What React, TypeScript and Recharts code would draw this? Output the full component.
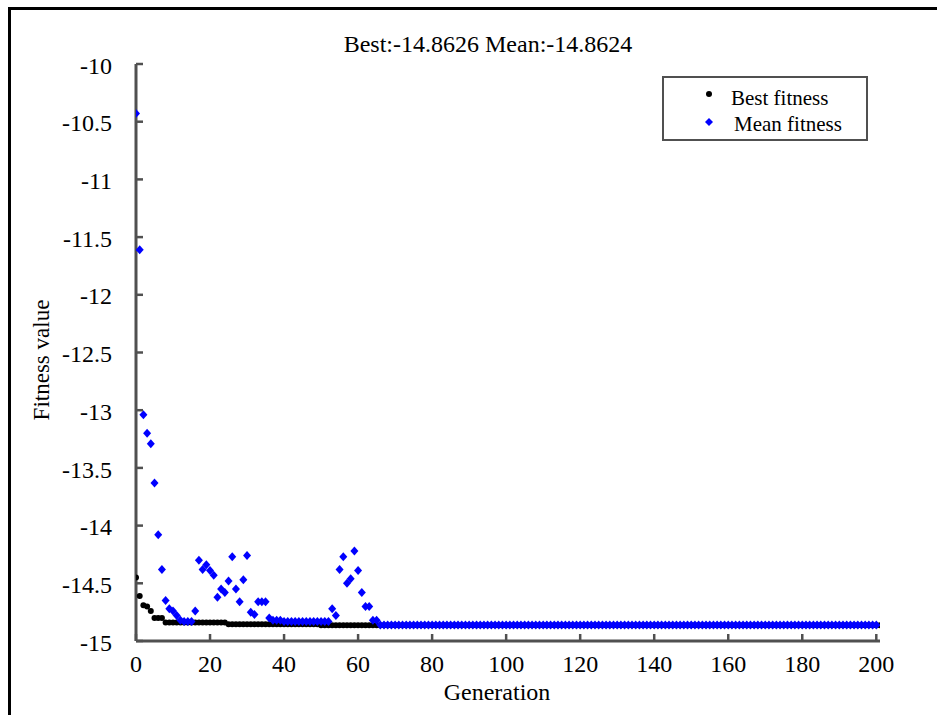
import React from "react";
import { ScatterChart, Scatter, XAxis, YAxis, Legend } from "recharts";

// generation = index in the arrays (0..200)
const bestFitness = [
  -14.45, -14.61, -14.69, -14.7, -14.74, -14.8, -14.8, -14.8,
  -14.84, -14.84, -14.84, -14.84, -14.84, -14.84, -14.84, -14.84, -14.84,
  -14.84, -14.84, -14.84, -14.84, -14.84, -14.84, -14.84, -14.84,
  -14.855, -14.855, -14.855, -14.855, -14.855, -14.855, -14.855, -14.855, -14.855,
  -14.855, -14.855, -14.855, -14.855, -14.855, -14.855, -14.855, -14.855, -14.855,
  -14.855, -14.855, -14.855, -14.855, -14.855, -14.855, -14.855,
  -14.8626, -14.8626, -14.8626, -14.8626, -14.8626, -14.8626, -14.8626, -14.8626,
  -14.8626, -14.8626, -14.8626, -14.8626, -14.8626, -14.8626, -14.8626, -14.8626,
  -14.8626, -14.8626, -14.8626, -14.8626, -14.8626, -14.8626, -14.8626, -14.8626, -14.8626, -14.8626, -14.8626, -14.8626, -14.8626, -14.8626, -14.8626, -14.8626, -14.8626, -14.8626, -14.8626,
  -14.8626, -14.8626, -14.8626, -14.8626, -14.8626, -14.8626, -14.8626, -14.8626, -14.8626, -14.8626, -14.8626, -14.8626, -14.8626, -14.8626, -14.8626,
  -14.8626, -14.8626, -14.8626, -14.8626, -14.8626, -14.8626, -14.8626, -14.8626, -14.8626, -14.8626, -14.8626, -14.8626, -14.8626, -14.8626, -14.8626,
  -14.8626, -14.8626, -14.8626, -14.8626, -14.8626, -14.8626, -14.8626, -14.8626, -14.8626, -14.8626, -14.8626, -14.8626, -14.8626, -14.8626, -14.8626,
  -14.8626, -14.8626, -14.8626, -14.8626, -14.8626, -14.8626, -14.8626, -14.8626, -14.8626, -14.8626, -14.8626, -14.8626, -14.8626, -14.8626, -14.8626,
  -14.8626, -14.8626, -14.8626, -14.8626, -14.8626, -14.8626, -14.8626, -14.8626, -14.8626, -14.8626, -14.8626, -14.8626, -14.8626, -14.8626, -14.8626,
  -14.8626, -14.8626, -14.8626, -14.8626, -14.8626, -14.8626, -14.8626, -14.8626, -14.8626, -14.8626, -14.8626, -14.8626, -14.8626, -14.8626, -14.8626,
  -14.8626, -14.8626, -14.8626, -14.8626, -14.8626, -14.8626, -14.8626, -14.8626, -14.8626, -14.8626, -14.8626, -14.8626, -14.8626, -14.8626, -14.8626,
  -14.8626, -14.8626, -14.8626, -14.8626, -14.8626, -14.8626, -14.8626, -14.8626, -14.8626, -14.8626, -14.8626, -14.8626, -14.8626, -14.8626, -14.8626,
];

const meanFitness = [
  -10.43, -11.61, -13.04, -13.2, -13.29, -13.63, -14.08, -14.38, -14.65, -14.72,
  -14.74, -14.78, -14.82, -14.83, -14.83, -14.83, -14.74, -14.3, -14.38, -14.34,
  -14.39, -14.43, -14.62, -14.55, -14.58, -14.48, -14.27, -14.55, -14.66, -14.47,
  -14.26, -14.75, -14.77, -14.66, -14.66, -14.66, -14.8, -14.82, -14.82, -14.82,
  -14.83, -14.83, -14.83, -14.83, -14.83, -14.83, -14.83, -14.83, -14.83, -14.83,
  -14.83, -14.83, -14.83,
  -14.72, -14.78, -14.38, -14.27, -14.5, -14.46, -14.22, -14.39, -14.58, -14.7,
  -14.7, -14.82, -14.82,
  -14.8624, -14.8624, -14.8624, -14.8624, -14.8624, -14.8624, -14.8624, -14.8624, -14.8624, -14.8624, -14.8624, -14.8624, -14.8624, -14.8624, -14.8624,
  -14.8624, -14.8624, -14.8624, -14.8624, -14.8624, -14.8624, -14.8624, -14.8624, -14.8624, -14.8624, -14.8624, -14.8624, -14.8624, -14.8624, -14.8624,
  -14.8624, -14.8624, -14.8624, -14.8624, -14.8624, -14.8624, -14.8624, -14.8624, -14.8624, -14.8624, -14.8624, -14.8624, -14.8624, -14.8624, -14.8624,
  -14.8624, -14.8624, -14.8624, -14.8624, -14.8624, -14.8624, -14.8624, -14.8624, -14.8624, -14.8624, -14.8624, -14.8624, -14.8624, -14.8624, -14.8624,
  -14.8624, -14.8624, -14.8624, -14.8624, -14.8624, -14.8624, -14.8624, -14.8624, -14.8624, -14.8624, -14.8624, -14.8624, -14.8624, -14.8624, -14.8624,
  -14.8624, -14.8624, -14.8624, -14.8624, -14.8624, -14.8624, -14.8624, -14.8624, -14.8624, -14.8624, -14.8624, -14.8624, -14.8624, -14.8624, -14.8624,
  -14.8624, -14.8624, -14.8624, -14.8624, -14.8624, -14.8624, -14.8624, -14.8624, -14.8624, -14.8624, -14.8624, -14.8624, -14.8624, -14.8624, -14.8624,
  -14.8624, -14.8624, -14.8624, -14.8624, -14.8624, -14.8624, -14.8624, -14.8624, -14.8624, -14.8624, -14.8624, -14.8624, -14.8624, -14.8624, -14.8624,
  -14.8624, -14.8624, -14.8624, -14.8624, -14.8624, -14.8624, -14.8624, -14.8624, -14.8624, -14.8624, -14.8624, -14.8624, -14.8624, -14.8624, -14.8624,
];

const xTicks = [0, 20, 40, 60, 80, 100, 120, 140, 160, 180, 200];
const yTicks = [-15, -14.5, -14, -13.5, -13, -12.5, -12, -11.5, -11, -10.5, -10];
const seriesNames = ["Best fitness", "Mean fitness"];
const titleText = "Best:-14.8626 Mean:-14.8624";
const xLabel = "Generation";
const yLabel = "Fitness value";

const bestData = bestFitness.map((v, i) => ({ gen: i, value: v }));
const meanData = meanFitness.map((v, i) => ({ gen: i, value: v }));

const FONT = '"Liberation Serif", "Times New Roman", Times, "DejaVu Serif", serif';
const AXIS_COLOR = "#505050";
const BLUE = "#0000ff";

const BlackDot = (props: any) => {
  const { cx, cy } = props;
  if (cx == null || cy == null) return null;
  return <circle cx={cx} cy={cy} r={3} fill="#000" />;
};

const BlueDiamond = (props: any) => {
  const { cx, cy } = props;
  if (cx == null || cy == null) return null;
  return (
    <polygon
      points={`${cx},${cy - 4.5} ${cx + 4},${cy} ${cx},${cy + 4.5} ${cx - 4},${cy}`}
      fill={BLUE}
    />
  );
};

// labels sit outside the axis, the little tick marks point inward
const YTick = (props: any) => {
  const { x, y, payload } = props;
  return (
    <g>
      <line x1={x + 24} x2={x + 31} y1={y} y2={y} stroke={AXIS_COLOR} strokeWidth={2.5} />
      <text
        x={x}
        y={y}
        dy="0.4em"
        textAnchor="end"
        fontSize={24}
        style={{ fontFamily: FONT }}
        fill="#000"
      >
        {payload.value}
      </text>
    </g>
  );
};

const XTick = (props: any) => {
  const { x, y, payload } = props;
  return (
    <g>
      <line x1={x} x2={x} y1={y - 14} y2={y - 21} stroke={AXIS_COLOR} strokeWidth={2.5} />
      <text
        x={x}
        y={y}
        dy="0.71em"
        textAnchor="middle"
        fontSize={24}
        style={{ fontFamily: FONT }}
        fill="#000"
      >
        {payload.value}
      </text>
    </g>
  );
};

const LegendBox = () => (
  <svg width={206} height={65} style={{ display: "block" }}>
    <rect x={1} y={1} width={204} height={63} fill="#fff" stroke={AXIS_COLOR} strokeWidth={2} />
    <circle cx={47} cy={18} r={3} fill="#000" />
    <text x={69} y={23} dy="0.3em" fontSize={21} style={{ fontFamily: FONT }} fill="#000">
      {seriesNames[0]}
    </text>
    <polygon points="47,42 51,46 47,50 43,46" fill={BLUE} />
    <text x={72} y={49} dy="0.3em" fontSize={21} style={{ fontFamily: FONT }} fill="#000">
      {seriesNames[1]}
    </text>
  </svg>
);

export default function App() {
  return (
    <div
      style={{
        position: "absolute",
        left: 0,
        top: 0,
        width: 937,
        height: 715,
        background: "#fff",
        fontFamily: FONT,
      }}
    >
      {/* frame lines of the original figure */}
      <div style={{ position: "absolute", left: 8, top: 7, width: 929, height: 3, background: "#000" }} />
      <div style={{ position: "absolute", left: 8, top: 7, width: 3, height: 708, background: "#000" }} />

      <ScatterChart
        width={937}
        height={715}
        margin={{ top: 64, right: 57, bottom: 24, left: 8 }}
        style={{ position: "absolute", left: 0, top: 0 }}
      >
        <XAxis
          type="number"
          dataKey="gen"
          domain={[0, 201]}
          ticks={xTicks}
          interval={0}
          allowDataOverflow
          height={50}
          tickSize={0}
          tickMargin={14}
          axisLine={{ stroke: AXIS_COLOR, strokeWidth: 3 }}
          tickLine={false}
          tick={<XTick />}
        />
        <YAxis
          type="number"
          dataKey="value"
          domain={[-15, -10]}
          ticks={yTicks}
          interval={0}
          allowDataOverflow
          width={128}
          tickSize={0}
          tickMargin={24}
          axisLine={{ stroke: AXIS_COLOR, strokeWidth: 3 }}
          tickLine={false}
          tick={<YTick />}
        />
        <Legend
          layout="vertical"
          verticalAlign="middle"
          align="center"
          content={<LegendBox />}
          wrapperStyle={{ position: "absolute", left: 662, top: 76, width: 206, height: 65 }}
        />
        <Scatter name={seriesNames[0]} data={bestData} shape={BlackDot} isAnimationActive={false} />
        <Scatter name={seriesNames[1]} data={meanData} shape={BlueDiamond} isAnimationActive={false} />
      </ScatterChart>

      <div
        style={{
          position: "absolute",
          left: 288,
          top: 30,
          width: 400,
          textAlign: "center",
          fontSize: 24,
          lineHeight: "28px",
          whiteSpace: "nowrap",
        }}
      >
        {titleText}
      </div>
      <div
        style={{
          position: "absolute",
          left: 397,
          top: 678,
          width: 200,
          textAlign: "center",
          fontSize: 24,
          lineHeight: "28px",
        }}
      >
        {xLabel}
      </div>
      <div
        style={{
          position: "absolute",
          left: 42 - 100,
          top: 360 - 14,
          width: 200,
          textAlign: "center",
          fontSize: 23,
          lineHeight: "28px",
          transform: "rotate(-90deg)",
          whiteSpace: "nowrap",
        }}
      >
        {yLabel}
      </div>
    </div>
  );
}
